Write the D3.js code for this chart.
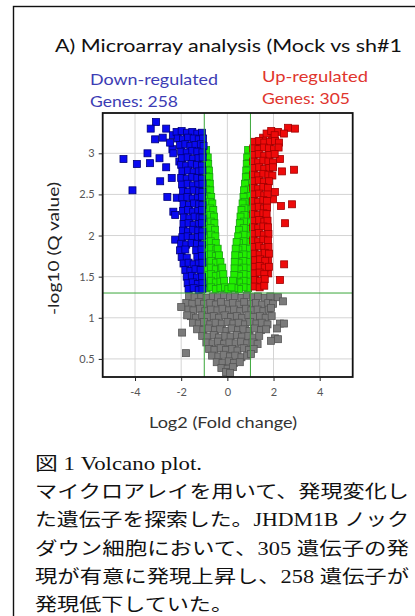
<!DOCTYPE html>
<html>
<head>
<meta charset="utf-8">
<script src="https://cdn.jsdelivr.net/npm/d3@7"></script>
<style>
  html, body { margin: 0; padding: 0; background: #fff; }
  svg { display: block; }
</style>
</head>
<body>
<svg id="viz" width="415" height="616"></svg>
<script>
// values: [log2 fold change, -log10 Q]
var downGenes = [
  [-3.09,3.38],[-3.32,3.30],[-2.65,3.30],[-3.13,3.17],[-2.80,3.19],[-2.36,3.22],
  [-4.50,2.93],[-3.92,2.87],[-3.46,3.00],[-3.35,2.88],[-2.94,2.94],[-2.65,2.83],
  [-2.91,2.66],[-2.41,2.70],[-4.11,2.55],[-2.60,2.47],[-2.19,2.46],[-2.34,2.29],
  [-2.26,2.25],[-2.38,3.05],[-2.48,3.13],[-2.34,3.00],[-2.08,2.90],[-2.26,1.95],
  [-2.20,3.26],[-1.98,3.27],[-1.75,3.25],[-1.52,3.26],[-1.30,3.24],[-1.10,3.25],
  [-2.15,3.18],[-1.92,3.17],[-1.70,3.19],[-1.46,3.18],[-1.24,3.17],[-1.05,3.18],
  [-2.05,3.10],[-1.82,3.11],[-1.60,3.09],[-1.38,3.10],[-1.15,3.11],[-1.03,3.09],
  [-2.00,3.02],[-1.76,3.01],[-1.52,3.03],[-1.30,3.02],[-1.08,3.01],
  [-1.96,2.94],[-1.72,2.95],[-1.48,2.93],[-1.25,2.94],[-1.07,2.95],
  [-2.00,2.86],[-1.78,2.85],[-1.55,2.87],[-1.32,2.86],[-1.10,2.85],
  [-1.95,2.78],[-1.70,2.79],[-1.46,2.77],[-1.24,2.78],[-1.08,2.79],
  [-2.00,2.70],[-1.76,2.69],[-1.52,2.71],[-1.30,2.70],[-1.10,2.69],
  [-1.96,2.62],[-1.72,2.63],[-1.48,2.61],[-1.26,2.62],[-1.08,2.63],
  [-1.92,2.54],[-1.70,2.53],[-1.46,2.55],[-1.22,2.54],[-1.08,2.53],
  [-1.95,2.46],[-1.73,2.47],[-1.50,2.45],[-1.28,2.46],[-1.10,2.47],
  [-1.90,2.38],[-1.66,2.37],[-1.44,2.39],[-1.22,2.38],[-1.08,2.37],
  [-1.92,2.30],[-1.70,2.31],[-1.48,2.29],[-1.26,2.30],[-1.10,2.31],
  [-1.88,2.22],[-1.64,2.21],[-1.42,2.23],[-1.20,2.22],[-1.08,2.21],
  [-1.90,2.14],[-1.68,2.15],[-1.46,2.13],[-1.24,2.14],[-1.10,2.15],
  [-1.92,2.06],[-1.70,2.05],[-1.48,2.07],[-1.26,2.06],[-1.08,2.05],
  [-1.95,1.98],[-1.72,1.99],[-1.50,1.97],[-1.28,1.98],[-1.10,1.99],
  [-2.00,1.90],[-1.78,1.89],[-1.55,1.91],[-1.32,1.90],[-1.10,1.89],
  [-2.05,1.82],[-1.82,1.83],[-1.35,1.82],[-1.12,1.83],
  [-1.98,1.74],[-1.76,1.73],[-1.30,1.74],[-1.10,1.75],
  [-1.90,1.66],[-1.68,1.67],[-1.46,1.65],[-1.24,1.66],[-1.08,1.67],
  [-1.82,1.58],[-1.60,1.57],[-1.38,1.59],[-1.16,1.58],
  [-1.76,1.50],[-1.54,1.51],[-1.32,1.49],[-1.10,1.50],
  [-1.72,1.42],[-1.50,1.43],[-1.28,1.41],[-1.08,1.42],
  [-1.68,1.35],[-1.46,1.36],[-1.24,1.34],[-1.08,1.35]
];

var upGenes = [
  [2.19,3.26],[2.63,3.31],[2.93,3.30],[1.93,3.20],[1.55,3.19],[1.33,3.14],[1.20,3.13],
  [2.45,3.24],[1.70,3.24],[1.90,3.27],[2.05,3.22],
  [2.89,2.80],[2.37,2.78],[2.28,2.93],[2.06,2.53],[2.32,2.36],[2.80,2.38],[2.50,2.15],
  [1.98,2.44],[2.46,1.65],[2.28,1.46],[1.77,1.70],[1.77,1.54],
  [1.15,3.14],[1.38,3.15],[1.60,3.13],[1.84,3.14],[2.06,3.15],[2.24,3.13],
  [1.12,3.06],[1.35,3.05],[1.58,3.07],[1.80,3.06],[2.02,3.05],[2.22,3.07],
  [1.14,2.98],[1.36,2.99],[1.60,2.97],[1.82,2.98],[2.05,2.99],
  [1.12,2.90],[1.34,2.89],[1.56,2.91],[1.78,2.90],[1.98,2.89],
  [1.15,2.82],[1.38,2.83],[1.60,2.81],[1.82,2.82],[1.98,2.83],
  [1.12,2.74],[1.34,2.73],[1.56,2.75],[1.78,2.74],[1.95,2.73],
  [1.14,2.66],[1.36,2.67],[1.58,2.65],[1.80,2.66],
  [1.12,2.58],[1.34,2.57],[1.56,2.59],[1.76,2.58],
  [1.15,2.50],[1.38,2.51],[1.60,2.49],[1.74,2.50],
  [1.12,2.42],[1.34,2.41],[1.56,2.43],[1.72,2.42],
  [1.14,2.34],[1.36,2.35],[1.58,2.33],[1.72,2.34],
  [1.12,2.26],[1.34,2.25],[1.56,2.27],[1.70,2.26],
  [1.15,2.18],[1.38,2.19],[1.60,2.17],[1.74,2.18],
  [1.12,2.10],[1.34,2.09],[1.56,2.11],[1.76,2.10],
  [1.14,2.02],[1.36,2.03],[1.58,2.01],[1.78,2.02],
  [1.12,1.94],[1.34,1.93],[1.56,1.95],[1.76,1.94],
  [1.15,1.86],[1.38,1.87],[1.60,1.85],[1.78,1.86],
  [1.18,1.78],[1.40,1.77],[1.62,1.79],[1.80,1.78],
  [1.20,1.70],[1.42,1.71],[1.64,1.69],
  [1.20,1.62],[1.40,1.63],[1.62,1.61],[1.80,1.62],
  [1.18,1.54],[1.40,1.55],[1.60,1.53],
  [1.20,1.46],[1.42,1.45],[1.62,1.47],
  [1.18,1.38],[1.40,1.37],[1.60,1.39]
];

var fcOnlyGenes = [
  [-0.92,3.04],[0.90,3.04],
  [-0.93,2.96],[-0.85,2.95],[0.92,2.96],[0.86,2.95],
  [-0.92,2.88],[-0.83,2.87],[0.92,2.88],[0.84,2.87],
  [-0.91,2.80],[-0.80,2.79],[0.91,2.80],[0.82,2.79],
  [-0.92,2.72],[-0.78,2.71],[0.92,2.72],[0.80,2.71],
  [-0.90,2.64],[-0.76,2.63],[0.90,2.64],[0.76,2.63],
  [-0.92,2.56],[-0.74,2.55],[0.92,2.56],[0.72,2.55],
  [-0.90,2.48],[-0.70,2.47],[0.90,2.48],[0.70,2.47],
  [-0.91,2.40],[-0.75,2.41],[-0.65,2.39],[0.91,2.40],[0.75,2.41],[0.66,2.39],
  [-0.90,2.32],[-0.74,2.33],[-0.61,2.31],[0.90,2.32],[0.74,2.33],[0.61,2.31],
  [-0.91,2.24],[-0.73,2.25],[-0.58,2.23],[0.91,2.24],[0.74,2.25],[0.57,2.23],
  [-0.90,2.16],[-0.72,2.17],[-0.56,2.15],[0.90,2.16],[0.72,2.17],[0.54,2.15],
  [-0.91,2.08],[-0.73,2.09],[-0.54,2.07],[0.91,2.08],[0.71,2.09],[0.50,2.07],
  [-0.90,2.00],[-0.71,2.01],[-0.52,1.99],[0.90,2.00],[0.70,2.01],[0.47,1.99],
  [-0.91,1.92],[-0.72,1.93],[-0.50,1.91],[0.91,1.92],[0.70,1.93],[0.50,1.91],[0.40,1.92],
  [-0.90,1.84],[-0.70,1.85],[-0.48,1.83],[-0.42,1.84],[0.90,1.84],[0.68,1.85],[0.48,1.83],[0.36,1.84],
  [-0.91,1.76],[-0.71,1.77],[-0.50,1.75],[-0.36,1.76],[0.91,1.76],[0.70,1.77],[0.50,1.75],[0.34,1.76],
  [-0.90,1.68],[-0.70,1.69],[-0.49,1.67],[-0.30,1.68],[0.90,1.68],[0.69,1.69],[0.49,1.67],[0.32,1.68],
  [-0.91,1.60],[-0.71,1.61],[-0.50,1.59],[-0.28,1.60],[-0.22,1.61],[0.91,1.60],[0.70,1.61],[0.50,1.59],[0.31,1.60],
  [-0.90,1.52],[-0.70,1.53],[-0.50,1.51],[-0.30,1.52],[-0.18,1.53],[0.90,1.52],[0.70,1.53],[0.50,1.51],[0.30,1.52],
  [-0.91,1.44],[-0.71,1.45],[-0.50,1.43],[-0.30,1.44],[-0.14,1.45],[0.91,1.44],[0.70,1.45],[0.50,1.43],[0.30,1.44],[0.24,1.45],
  [-0.90,1.36],[-0.70,1.37],[-0.50,1.35],[-0.30,1.36],[-0.10,1.37],[0.04,1.35],[0.90,1.36],[0.70,1.37],[0.50,1.35],[0.30,1.36],[0.18,1.37]
];

var nonSigGenes = [
  [-1.66,1.26],[-1.42,1.25],[-1.13,1.27],[-0.90,1.24],[-0.63,1.26],[-0.41,1.25],[-0.14,1.27],[0.12,1.25],
  [0.33,1.26],[0.61,1.24],[0.84,1.27],[1.12,1.25],[1.33,1.26],[1.62,1.24],[1.86,1.26],
  [-1.78,1.18],[-1.52,1.17],[-1.24,1.19],[-1.01,1.17],[-0.74,1.18],[-0.50,1.16],[-0.27,1.19],[0.02,1.17],
  [0.24,1.18],[0.52,1.16],[0.73,1.19],[1.02,1.17],[1.24,1.18],[1.51,1.16],[1.77,1.18],[1.98,1.17],
  [-1.69,1.10],[-1.47,1.09],[-1.19,1.11],[-0.96,1.08],[-0.71,1.10],[-0.43,1.09],[-0.21,1.11],[0.07,1.09],
  [0.29,1.10],[0.56,1.08],[0.81,1.11],[1.04,1.09],[1.31,1.10],[1.56,1.08],[1.79,1.10],
  [-1.58,1.02],[-1.36,1.00],[-1.09,1.03],[-0.86,1.01],[-0.59,1.02],[-0.36,1.00],[-0.09,1.03],[0.16,1.01],
  [0.41,1.02],[0.64,1.00],[0.91,1.03],[1.14,1.01],[1.41,1.02],[1.66,1.00],[1.92,1.02],
  [-1.49,0.94],[-1.24,0.93],[-1.01,0.95],[-0.74,0.92],[-0.51,0.94],[-0.24,0.93],[0.01,0.95],
  [0.26,0.93],[0.49,0.94],[0.76,0.92],[0.99,0.95],[1.26,0.93],[1.49,0.94],[1.74,0.92],
  [-1.31,0.86],[-1.04,0.85],[-0.81,0.87],[-0.54,0.85],[-0.31,0.86],[-0.04,0.84],[0.19,0.87],
  [0.46,0.85],[0.69,0.86],[0.96,0.84],[1.19,0.87],[1.46,0.85],[1.68,0.86],
  [-1.09,0.78],[-0.86,0.77],[-0.59,0.79],[-0.36,0.76],[-0.09,0.78],[0.14,0.77],[0.41,0.79],
  [0.64,0.77],[0.91,0.78],[1.14,0.76],[1.38,0.78],
  [-0.91,0.70],[-0.64,0.69],[-0.41,0.71],[-0.14,0.68],[0.09,0.70],[0.36,0.69],[0.59,0.71],
  [0.86,0.69],[1.09,0.70],[1.31,0.68],
  [-0.79,0.62],[-0.56,0.61],[-0.29,0.63],[-0.06,0.61],[0.21,0.62],[0.44,0.60],[0.71,0.63],[0.94,0.61],[1.14,0.62],
  [-0.66,0.54],[-0.39,0.53],[-0.16,0.55],[0.11,0.53],[0.34,0.54],[0.61,0.52],[0.86,0.54],[1.02,0.56],
  [-0.46,0.46],[-0.21,0.45],[0.06,0.47],[0.29,0.45],[0.54,0.46],
  [-0.26,0.39],[0.01,0.38],[0.24,0.40],
  [-0.06,0.34],[0.12,0.33],
  [-2.00,1.13],[-1.96,0.82],[-1.79,0.57],[-1.74,1.03],[2.19,1.25],[2.41,1.20],[1.89,1.12],
  [2.28,0.93],[2.45,0.93],[2.15,0.87],[2.06,0.75],[2.19,0.74],[1.89,0.72]
];

var xTicks = [-4, -2, 0, 2, 4];
var yTicks = [0.5, 1, 1.5, 2, 2.5, 3];
var fcCutoffs = [-1, 1];
var qCutoff = 1.301;

var captionLines = [
  "図 1 Volcano plot.",
  "マイクロアレイを用いて、発現変化し",
  "た遺伝子を探索した。JHDM1B ノック",
  "ダウン細胞において、305 遺伝子の発",
  "現が有意に発現上昇し、258 遺伝子が",
  "発現低下していた。"
];

function drawVolcano() {
	var svg = d3.select("#viz");
	var plot = { left: 102.7, right: 352.7, top: 113, bottom: 377 };
	var size = 7;

	var x = d3.scaleLinear().domain([-5.4, 5.43]).range([plot.left, plot.right]);
	var y = d3.scaleLinear().domain([0.28, 3.49]).range([plot.bottom, plot.top]);

	// outer box of the figure
	svg.append("rect")
		.attr("x", 13.5).attr("y", 6.5).attr("width", 440).attr("height", 640)
		.attr("fill", "none").attr("stroke", "#111").attr("stroke-width", 1.4);

	svg.append("text")
		.attr("x", 55).attr("y", 52)
		.attr("font-family", "Lato, 'Open Sans', sans-serif").attr("font-size", 17.5)
		.attr("fill", "#111")
		.attr("textLength", 347).attr("lengthAdjust", "spacingAndGlyphs")
		.text("A) Microarray analysis (Mock vs sh#1");

	var labels = [
		{ t: "Down-regulated", x: 90, y: 85, w: 128, c: "#3c3cb4" },
		{ t: "Genes: 258", x: 90, y: 107, w: 88, c: "#3c3cb4" },
		{ t: "Up-regulated", x: 262, y: 82, w: 106, c: "#e0352e" },
		{ t: "Genes: 305", x: 262, y: 104, w: 88, c: "#e0352e" }
	];
	svg.selectAll("text.count").data(labels).enter().append("text")
		.attr("class", "count")
		.attr("x", d => d.x).attr("y", d => d.y)
		.attr("font-family", "Lato, 'Open Sans', sans-serif").attr("font-size", 16)
		.attr("fill", d => d.c)
		.attr("textLength", d => d.w).attr("lengthAdjust", "spacingAndGlyphs")
		.text(d => d.t);

	var g = svg.append("g");

	// grid
	g.selectAll("line.gx").data(xTicks).enter().append("line")
		.attr("x1", d => x(d)).attr("x2", d => x(d))
		.attr("y1", plot.top).attr("y2", plot.bottom)
		.attr("stroke", "#d4d4d4").attr("stroke-width", 1);
	g.selectAll("line.gy").data(yTicks).enter().append("line")
		.attr("y1", d => y(d)).attr("y2", d => y(d))
		.attr("x1", plot.left).attr("x2", plot.right)
		.attr("stroke", "#d4d4d4").attr("stroke-width", 1);

	function squares(data, fill, stroke) {
		g.append("g").selectAll("rect").data(data).enter().append("rect")
			.attr("x", d => x(d[0]) - size / 2)
			.attr("y", d => y(d[1]) - size / 2)
			.attr("width", size).attr("height", size)
			.attr("fill", fill).attr("stroke", stroke).attr("stroke-width", 0.8);
	}
	squares(nonSigGenes, "#7b7b7b", "#555");
	squares(fcOnlyGenes, "#22ee00", "#18a010");
	squares(downGenes, "#0a0af0", "#00007a");
	squares(upGenes, "#ee0a0a", "#a00000");

	// cutoff lines
	g.selectAll("line.fc").data(fcCutoffs).enter().append("line")
		.attr("x1", d => x(d)).attr("x2", d => x(d))
		.attr("y1", plot.top).attr("y2", plot.bottom)
		.attr("stroke", "#3aa63a").attr("stroke-width", 1);
	g.append("line")
		.attr("x1", plot.left).attr("x2", plot.right)
		.attr("y1", y(qCutoff)).attr("y2", y(qCutoff))
		.attr("stroke", "#3aa63a").attr("stroke-width", 1);

	g.append("rect")
		.attr("x", plot.left).attr("y", plot.top)
		.attr("width", plot.right - plot.left).attr("height", plot.bottom - plot.top)
		.attr("fill", "none").attr("stroke", "#111").attr("stroke-width", 1.8);

	var xAxis = d3.axisBottom(x).tickValues(xTicks).tickSize(4).tickPadding(7).tickFormat(d => String(d));
	var yAxis = d3.axisLeft(y).tickValues(yTicks).tickSize(4).tickPadding(4).tickFormat(d => String(d));

	var gx = svg.append("g").attr("transform", "translate(0," + plot.bottom + ")").call(xAxis);
	var gy = svg.append("g").attr("transform", "translate(" + plot.left + ",0)").call(yAxis);
	[gx, gy].forEach(function (a) {
		a.select(".domain").remove();
		a.selectAll("line").attr("stroke", "#222");
		a.selectAll("text").attr("fill", "#555")
			.attr("font-family", "Lato, 'Open Sans', sans-serif").attr("font-size", 11);
	});

	svg.append("text")
		.attr("x", 149).attr("y", 428)
		.attr("font-family", "Lato, 'Open Sans', sans-serif").attr("font-size", 15.5)
		.attr("fill", "#333")
		.attr("textLength", 148).attr("lengthAdjust", "spacingAndGlyphs")
		.text("Log2 (Fold change)");

	svg.append("text")
		.attr("transform", "translate(59,248.5) rotate(-90)")
		.attr("text-anchor", "middle")
		.attr("font-family", "Lato, 'Open Sans', sans-serif").attr("font-size", 14.5)
		.attr("fill", "#222")
		.attr("textLength", 133).attr("lengthAdjust", "spacingAndGlyphs")
		.text("-log10 (Q value)");

	// caption
	var widths = [167, 374, 374, 374, 374, 198];
	svg.selectAll("text.cap").data(captionLines).enter().append("text")
		.attr("class", "cap")
		.attr("x", 35)
		.attr("y", (d, i) => 470 + i * 28.2)
		.attr("font-family", "'Liberation Serif', 'Noto Sans CJK JP', serif")
		.attr("font-size", 18)
		.attr("fill", "#111")
		.attr("textLength", (d, i) => widths[i]).attr("lengthAdjust", "spacingAndGlyphs")
		.text(d => d);
}

drawVolcano();
</script>
</body>
</html>
